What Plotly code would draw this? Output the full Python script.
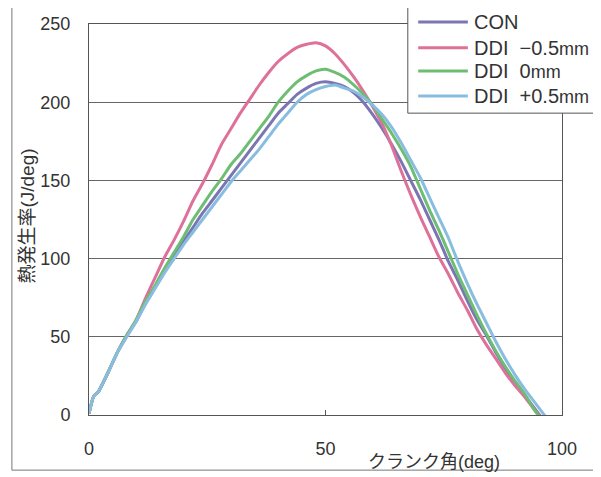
import plotly.graph_objects as go

crank_angle = [0, 1, 2, 4, 6, 8, 10, 12, 14, 16, 18, 20, 22, 24, 26, 28, 30, 32, 34, 36, 38, 40,
               42, 44, 46, 48, 50, 52, 54, 56, 58, 60, 62, 64, 66, 68, 70, 72, 74, 76, 78, 80,
               82, 84, 86, 88, 90, 92, 94, 96, 98]

con = [1, 12, 15, 27, 40, 51, 60, 72, 82, 92, 102, 111, 120, 129, 137, 145, 153, 161, 169, 177, 185, 193,
       199, 205, 209, 212, 213, 212, 210, 206, 200, 192, 183, 173, 162, 150, 138, 125, 112, 98, 86, 73,
       61, 51, 40, 30, 21, 13, 5, -3, None]
ddi_m05 = [1, 12, 15, 27, 40, 51, 61, 75, 88, 101, 112, 124, 137, 148, 160, 173, 183, 193, 202, 211, 219, 226,
           231, 235, 237, 238, 236, 231, 224, 216, 207, 197, 186, 172, 156, 141, 127, 114, 101, 90, 78, 67,
           55, 45, 36, 27, 19, 12, 4, -4, None]
ddi_0 = [1, 12, 15, 27, 40, 51, 61, 73, 83, 94, 104, 114, 125, 134, 143, 151, 160, 167, 175, 183, 191, 200,
         207, 213, 217, 220, 221, 219, 216, 211, 205, 198, 189, 180, 170, 159, 145, 131, 118, 104, 90, 77,
         64, 52, 41, 31, 22, 14, 4, -4, None]
ddi_p05 = [1, 12, 15, 27, 40, 50, 60, 71, 81, 91, 100, 109, 117, 125, 133, 141, 149, 156, 163, 170, 178, 186,
           193, 200, 205, 208, 210, 211, 209, 207, 203, 198, 192, 184, 174, 163, 152, 139, 126, 113, 98, 84,
           71, 59, 47, 36, 26, 17, 9, 1, -7]

series_names = ["CON", "DDI\u00a0\u00a0\u22120.5<span style='font-size:18px'>mm</span>",
                "DDI\u00a0\u00a00<span style='font-size:18px'>mm</span>",
                "DDI\u00a0\u00a0+0.5<span style='font-size:18px'>mm</span>"]
series_values = [con, ddi_m05, ddi_0, ddi_p05]
colors = ["#7b76b3", "#de7199", "#6dbd72", "#88bde0"]

y_ticks = [0, 50, 100, 150, 200, 250]
x_ticks = [0, 50, 100]

FONT = "Liberation Sans, Arial, Noto Sans CJK JP, sans-serif"

fig = go.Figure()
for name, vals, col in zip(series_names, series_values, colors):
    fig.add_trace(go.Scatter(x=crank_angle, y=vals, name=name, mode="lines",
                             line=dict(color=col, width=3, shape="spline", smoothing=0.6),
                             connectgaps=False, showlegend=False))

# page body has an 8px margin, so the figure is shrunk/shifted to compensate
fig.update_layout(
    width=593, height=469,
    margin=dict(l=81, r=39, t=16, b=62, autoexpand=False),
    paper_bgcolor="white", plot_bgcolor="white",
    font=dict(family=FONT, size=18, color="#333"),
    showlegend=False,
    xaxis=dict(range=[0, 100], tickvals=x_ticks, showgrid=False, zeroline=False,
               showline=True, linecolor="#555", linewidth=1, mirror=True,
               ticks="inside", ticklen=5, tickcolor="#555",
               ticklabelstandoff=17, tickfont=dict(size=18, color="#333")),
    yaxis=dict(range=[0, 250], tickvals=y_ticks, showgrid=True, gridcolor="#666", gridwidth=1,
               zeroline=False, showline=True, linecolor="#555", linewidth=1, mirror=True,
               ticks="", ticklabelstandoff=14, tickfont=dict(size=18, color="#333")),
)

fig.add_annotation(text="熱発生率(J/deg)", xref="paper", yref="paper", x=-0.129, y=0.51,
                   textangle=-90, showarrow=False, font=dict(size=19, color="#333"),
                   xanchor="center", yanchor="middle")
fig.add_annotation(text="クランク角(deg)", xref="paper", yref="paper", x=0.729, y=-0.12,
                   showarrow=False, font=dict(size=18, color="#333"),
                   xanchor="center", yanchor="middle")

# outer frame of the figure
fig.add_shape(type="rect", xref="paper", yref="paper", x0=-0.163, x1=1.2, y0=-0.141, y1=1.054,
              line=dict(color="#777", width=1), layer="below")

# legend box drawn as layout shapes + text
fig.add_shape(type="rect", xref="paper", yref="paper", x0=0.674, x1=1.074, y0=0.772, y1=1.054,
              line=dict(color="#555", width=1), fillcolor="white", layer="above")
legend_y = [1.005, 0.939, 0.880, 0.816]
for name, col, ly in zip(series_names, colors, legend_y):
    fig.add_shape(type="line", xref="paper", yref="paper", x0=0.696, x1=0.801, y0=ly, y1=ly,
                  line=dict(color=col, width=3), layer="above")
    fig.add_annotation(text=name, xref="paper", yref="paper", x=0.810, y=ly, showarrow=False,
                       xanchor="left", yanchor="middle", font=dict(size=20, color="#333"))

fig.write_html("out.html")
